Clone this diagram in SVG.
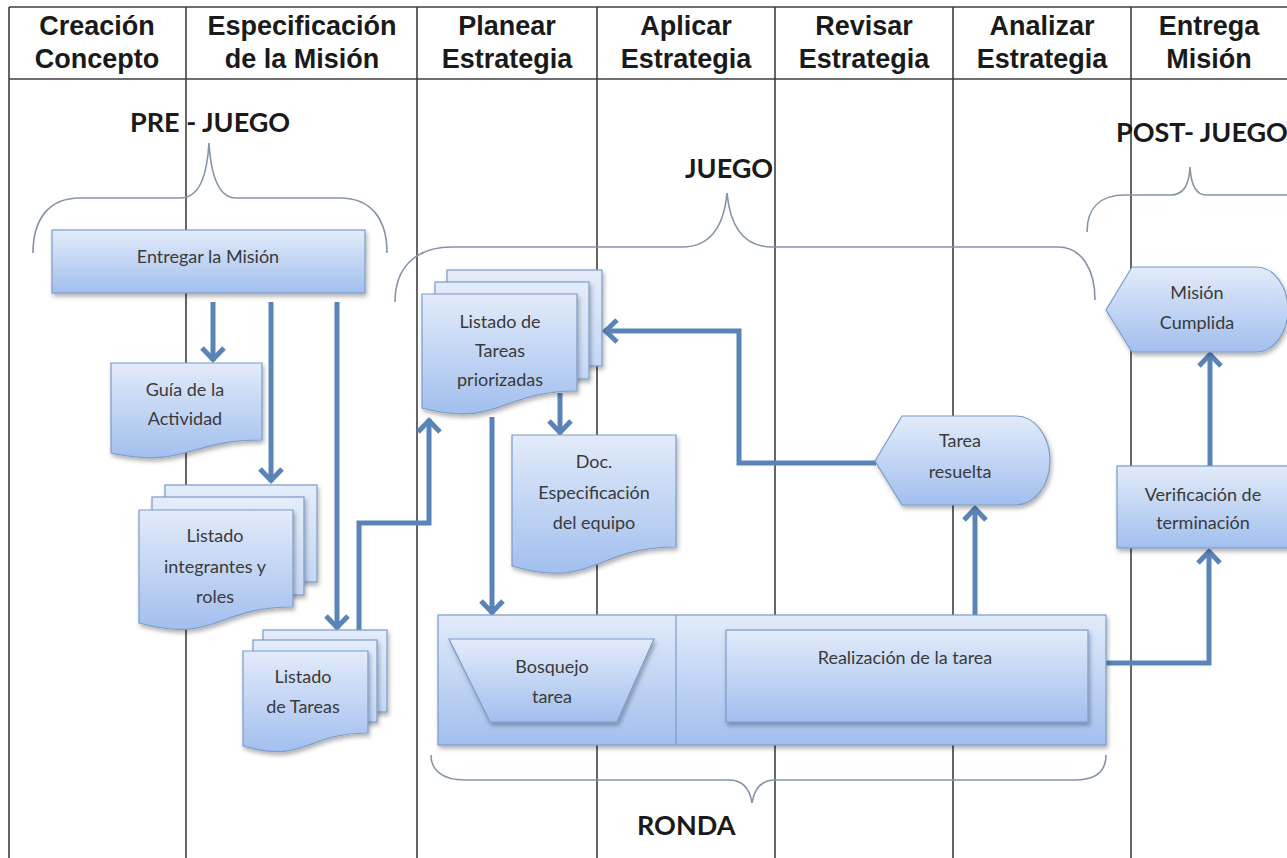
<svg xmlns="http://www.w3.org/2000/svg" width="1287" height="858" viewBox="0 0 1287 858">
  <style>
    .grid { stroke: #3f3f3f; stroke-width: 1.6; fill: none; }
    .hdr { font-family: "Liberation Sans", Arial, sans-serif; font-weight: bold; font-size: 27px; fill: #1a1a1a; text-anchor: middle; }
    .phase { font-family: Lato, "Open Sans", sans-serif; font-weight: bold; font-size: 27px; fill: #1a1a1a; }
    .brace { stroke: #8794a6; stroke-width: 1.6; fill: none; }
    .shape { fill: url(#blueFill); stroke: #7b9bc9; stroke-width: 1.2; filter: url(#shadow); }
    .sheet { fill: url(#sheetFill); stroke: #7b9bc9; stroke-width: 1.2; filter: url(#shadow); }
    .lbl { font-family: Lato, "Open Sans", sans-serif; font-size: 18px; fill: #3a3a3a; text-anchor: middle; }
    .flowA { stroke: #5a84b7; stroke-width: 5; fill: none; marker-end: url(#head); }
  </style>
  <defs>
    <linearGradient id="blueFill" x1="0" y1="0" x2="0" y2="1">
      <stop offset="0" stop-color="#e2ebfa"/>
      <stop offset="1" stop-color="#a2bfee"/>
    </linearGradient>
    <linearGradient id="sheetFill" x1="0" y1="0" x2="0" y2="1">
      <stop offset="0" stop-color="#e4edfb"/>
      <stop offset="1" stop-color="#c4d7f5"/>
    </linearGradient>
    <filter id="shadow" x="-10%" y="-10%" width="125%" height="130%">
      <feDropShadow dx="1.5" dy="3" stdDeviation="2" flood-color="#000" flood-opacity="0.3"/>
    </filter>
    <marker id="head" markerUnits="userSpaceOnUse" markerWidth="36" markerHeight="36" viewBox="-20 -18 36 36" refX="0" refY="0" orient="auto">
      <path d="M-13,-11 L-1.5,0 L-13,11" fill="none" stroke="#5a84b7" stroke-width="5"/>
    </marker>
  </defs>

  <rect width="1287" height="858" fill="#ffffff"/>

  <!-- swimlane grid -->
  <g id="lanes">
    <line class="grid" x1="9" y1="7" x2="1287" y2="7"/>
    <line class="grid" x1="9" y1="79" x2="1287" y2="79"/>
    <line class="grid" x1="9" y1="7" x2="9" y2="858"/>
    <line class="grid" x1="186" y1="7" x2="186" y2="858"/>
    <line class="grid" x1="417" y1="7" x2="417" y2="858"/>
    <line class="grid" x1="597" y1="7" x2="597" y2="858"/>
    <line class="grid" x1="775" y1="7" x2="775" y2="858"/>
    <line class="grid" x1="953" y1="7" x2="953" y2="858"/>
    <line class="grid" x1="1131" y1="7" x2="1131" y2="858"/>
    <text class="hdr" x="97" y="35">Creación</text>
    <text class="hdr" x="97" y="68">Concepto</text>
    <text class="hdr" x="302" y="35">Especificación</text>
    <text class="hdr" x="302" y="68">de la Misión</text>
    <text class="hdr" x="507" y="35">Planear</text>
    <text class="hdr" x="507" y="68">Estrategia</text>
    <text class="hdr" x="686" y="35">Aplicar</text>
    <text class="hdr" x="686" y="68">Estrategia</text>
    <text class="hdr" x="864" y="35">Revisar</text>
    <text class="hdr" x="864" y="68">Estrategia</text>
    <text class="hdr" x="1042" y="35">Analizar</text>
    <text class="hdr" x="1042" y="68">Estrategia</text>
    <text class="hdr" x="1209" y="35">Entrega</text>
    <text class="hdr" x="1209" y="68">Misión</text>
  </g>

  <!-- phase braces and titles -->
  <g id="phases">
    <text class="phase" x="130" y="132">PRE - JUEGO</text>
    <path class="brace" d="M33,253 C33,220 48,198 80,198 H180 C200,198 207,175 209,143 C211,175 218,198 236,198 H340 C372,198 387,220 387,253"/>
    <text class="phase" x="685" y="178">JUEGO</text>
    <path class="brace" d="M395,302 C395,268 415,247 452,247 H682 C712,247 724,225 727,193 C730,225 742,247 772,247 H1058 C1082,247 1095,270 1095,300"/>
    <text class="phase" x="1116" y="142">POST- JUEGO</text>
    <path class="brace" d="M1087,232 C1087,208 1100,195 1125,195 H1170 C1184,195 1189,185 1190,167 C1191,185 1196,195 1206,195 H1287"/>
    <text class="phase" x="637" y="835">RONDA</text>
    <path class="brace" d="M431,755 C431,770 442,780 465,780 H729 C744,780 750,790 752,803 C754,790 760,780 775,780 H1075 C1097,780 1106,770 1106,755"/>
  </g>

  <!-- connectors -->
  <g id="connectors">
    <line class="flowA" x1="213" y1="302" x2="213" y2="361"/>
    <line class="flowA" x1="271" y1="302" x2="271" y2="482"/>
    <line class="flowA" x1="337" y1="302" x2="337" y2="629"/>
    <polyline class="flowA" points="359,630 359,523 429,523 429,419"/>
    <line class="flowA" x1="560" y1="393" x2="560" y2="434"/>
    <line class="flowA" x1="492" y1="417" x2="492" y2="614"/>
    <line class="flowA" x1="631" y1="688" x2="724" y2="688"/>
    <line class="flowA" x1="975" y1="615" x2="975" y2="507"/>
    <polyline class="flowA" points="876,463 739,463 739,331 604,331"/>
    <polyline class="flowA" points="1106,663 1209,663 1209,550"/>
    <line class="flowA" x1="1210" y1="466" x2="1210" y2="353"/>
  </g>

  <!-- nodes -->
  <g id="entregar-mision">
    <rect class="shape" x="52" y="230" width="313" height="63"/>
    <text class="lbl" x="208" y="263">Entregar la Misión</text>
  </g>

  <g id="guia-actividad">
    <path class="shape" d="M111,363 H262 V440 C186.5,440 186.5,469 111,453 Z"/>
    <text class="lbl" x="185" y="396">Guía de la</text>
    <text class="lbl" x="185" y="425">Actividad</text>
  </g>

  <g id="listado-integrantes">
    <rect class="sheet" x="165" y="485" width="152" height="97"/>
    <rect class="sheet" x="152" y="497" width="152" height="98"/>
    <path class="shape" d="M139,510 H293 V607 C216,607 216,644 139,623 Z"/>
    <text class="lbl" x="215" y="542">Listado</text>
    <text class="lbl" x="215" y="573">integrantes y</text>
    <text class="lbl" x="215" y="603">roles</text>
  </g>

  <g id="listado-tareas">
    <rect class="sheet" x="263" y="630" width="124" height="82"/>
    <rect class="sheet" x="253" y="640" width="124" height="82"/>
    <path class="shape" d="M243,651 H368 V733 C305.5,733 305.5,764 243,746 Z"/>
    <text class="lbl" x="303" y="683">Listado</text>
    <text class="lbl" x="303" y="713">de Tareas</text>
  </g>

  <g id="listado-priorizadas">
    <rect class="sheet" x="447" y="270" width="155" height="96"/>
    <rect class="sheet" x="435" y="282" width="154" height="97"/>
    <path class="shape" d="M422,294 H577 V391 C499.5,391 499.5,428 422,408 Z"/>
    <text class="lbl" x="500" y="328">Listado de</text>
    <text class="lbl" x="500" y="357">Tareas</text>
    <text class="lbl" x="500" y="386">priorizadas</text>
  </g>

  <g id="doc-especificacion">
    <path class="shape" d="M512,435 H676 V547 C594,547 594,590 512,566 Z"/>
    <text class="lbl" x="594" y="468">Doc.</text>
    <text class="lbl" x="594" y="499">Especificación</text>
    <text class="lbl" x="594" y="529">del equipo</text>
  </g>

  <g id="ronda">
    <rect class="shape" x="438" y="615" width="668" height="130"/>
    <line x1="676" y1="615" x2="676" y2="745" stroke="#7b9bc9" stroke-width="1.2"/>
  </g>

  <g id="bosquejo-tarea">
    <path class="shape" d="M449,639 H654 L617,722 H490 Z"/>
    <text class="lbl" x="552" y="673">Bosquejo</text>
    <text class="lbl" x="552" y="703">tarea</text>
  </g>

  <g id="realizacion-tarea">
    <rect class="shape" x="726" y="630" width="362" height="92"/>
    <text class="lbl" x="905" y="664">Realización de la tarea</text>
  </g>

  <g id="tarea-resuelta">
    <path class="shape" d="M875,461 L902,416 H1016 A34,44.5 0 0 1 1016,505 H902 Z"/>
    <text class="lbl" x="960" y="447">Tarea</text>
    <text class="lbl" x="960" y="478">resuelta</text>
  </g>

  <g id="verificacion">
    <rect class="shape" x="1117" y="466" width="190" height="82"/>
    <text class="lbl" x="1203" y="501">Verificación de</text>
    <text class="lbl" x="1203" y="529">terminación</text>
  </g>

  <g id="mision-cumplida">
    <path class="shape" d="M1106,310 L1132,267 H1256 A32,42.5 0 0 1 1256,352 H1132 Z"/>
    <text class="lbl" x="1197" y="299">Misión</text>
    <text class="lbl" x="1197" y="329">Cumplida</text>
  </g>
</svg>
